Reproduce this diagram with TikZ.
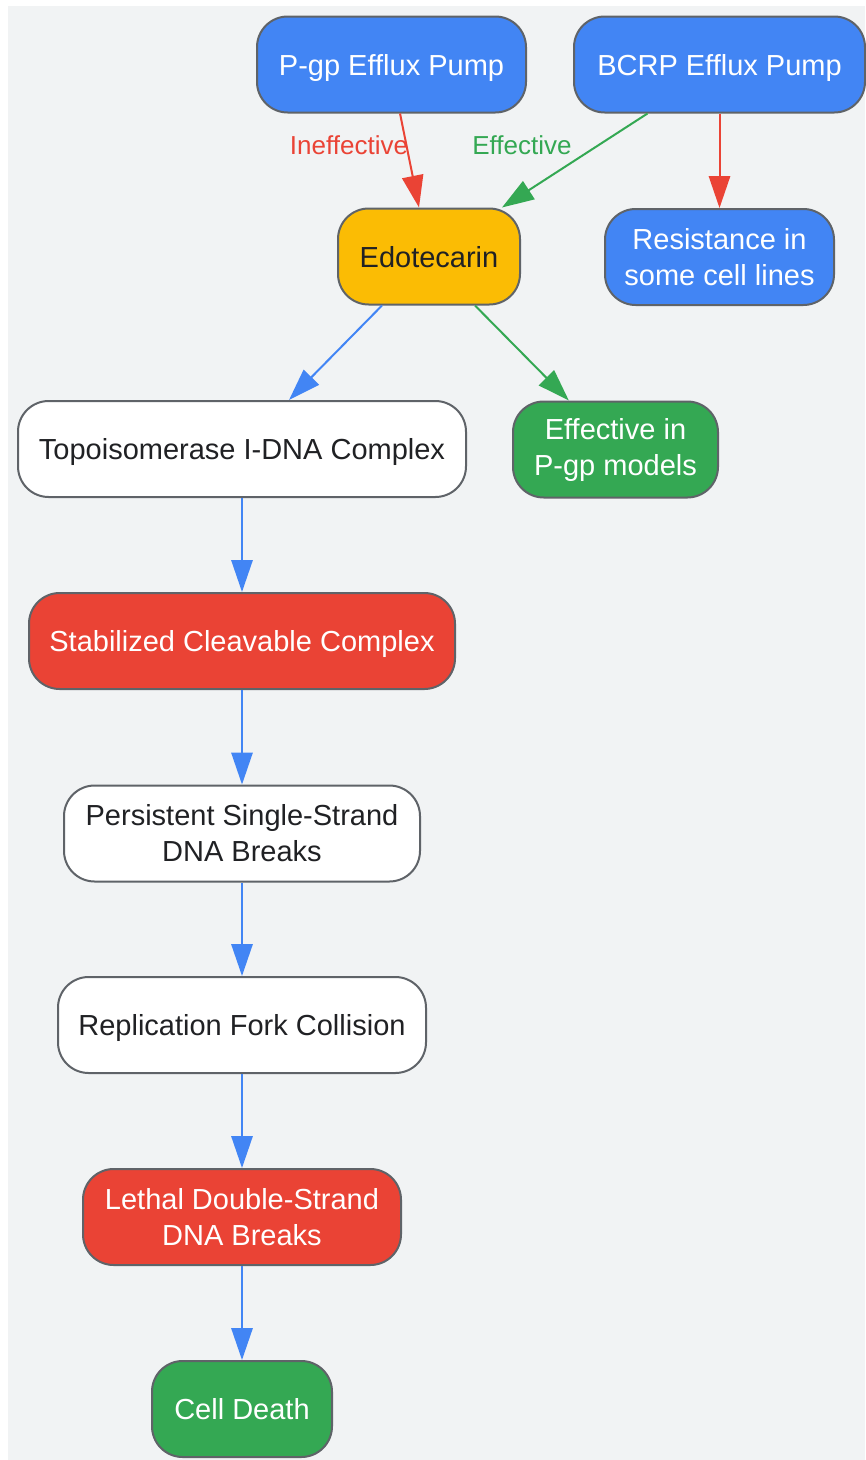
\documentclass[tikz,border=0pt]{standalone}
\usepackage{fontspec}
\setmainfont{Liberation Sans}
\usetikzlibrary{arrows.meta}
\definecolor{gblue}{HTML}{4285F4}
\definecolor{gyellow}{HTML}{FBBC04}
\definecolor{gred}{HTML}{EA4335}
\definecolor{ggreen}{HTML}{34A853}
\definecolor{gbg}{HTML}{F1F3F4}
\definecolor{gborder}{HTML}{5F6368}
\definecolor{gtext}{HTML}{202124}
\tikzset{
  box/.style={draw=gborder, line width=1.5pt, rounded corners=23pt, inner sep=0pt,
    minimum height=72pt, align=center,
    font=\fontsize{21.75pt}{27pt}\selectfont},
  oneline/.style={text height=15.9pt, text depth=0pt},
  bluebox/.style={box, fill=gblue, text=white},
  yellowbox/.style={box, fill=gyellow, text=gtext},
  redbox/.style={box, fill=gred, text=white},
  greenbox/.style={box, fill=ggreen, text=white},
  whitebox/.style={box, fill=white, text=gtext},
  conn/.style={line width=1.5pt, -{Triangle[length=24pt,width=16pt]}},
  elabel/.style={font=\fontsize{19.5pt}{24pt}\selectfont, inner sep=0pt}
}
\begin{document}
\begin{tikzpicture}[x=0.75pt,y=-0.75pt]
\useasboundingbox (0,0) rectangle (865,1460);
\fill[gbg] (8,6) rectangle (865,1460);

\node[bluebox, oneline, minimum width=201.75pt] (pgp) at (391.5,64.5) {P-gp Efflux Pump};
\node[bluebox, oneline, minimum width=218.25pt] (bcrp) at (719.5,64.5) {BCRP Efflux Pump};
\node[yellowbox, oneline, minimum width=136.5pt] (edo) at (429,256.5) {Edotecarin};
\node[bluebox, minimum width=171.75pt] (res) at (719.5,257) {Resistance in\\some cell lines};
\node[whitebox, oneline, minimum width=336pt] (topo) at (242,449) {Topoisomerase I-DNA Complex};
\node[greenbox, minimum width=153.75pt] (eff) at (615.5,449.5) {Effective in\\P-gp models};
\node[redbox, oneline, minimum width=319.5pt] (stab) at (242,641) {Stabilized Cleavable Complex};
\node[whitebox, minimum width=267pt] (pers) at (242,833.5) {Persistent Single-Strand\\DNA Breaks};
\node[whitebox, oneline, minimum width=276pt] (repl) at (242,1025) {Replication Fork Collision};
\node[redbox, minimum width=238.5pt] (leth) at (242,1217) {Lethal Double-Strand\\DNA Breaks};
\node[greenbox, oneline, minimum width=135pt] (cell) at (242,1409) {Cell Death};

\draw[conn, gred] ([xshift=6.4pt]pgp.south) -- ([xshift=-7.5pt]edo.north);
\node[elabel, text=gred] (lin) at (349,145) {Ineffective};
\draw[conn, ggreen] ([xshift=-54pt]bcrp.south) -- ([xshift=54.75pt]edo.north);
\node[elabel, text=ggreen] (lef) at (522,145) {Effective};
\draw[conn, gred] (bcrp.south) -- (res.north);
\draw[conn, gblue] ([xshift=-35.25pt]edo.south) -- ([xshift=35.25pt]topo.north);
\draw[conn, ggreen] ([xshift=34.5pt]edo.south) -- ([xshift=-35pt]eff.north);
\draw[conn, gblue] (topo) -- (stab);
\draw[conn, gblue] (stab) -- (pers);
\draw[conn, gblue] (pers) -- (repl);
\draw[conn, gblue] (repl) -- (leth);
\draw[conn, gblue] (leth) -- (cell);
\end{tikzpicture}
\end{document}
